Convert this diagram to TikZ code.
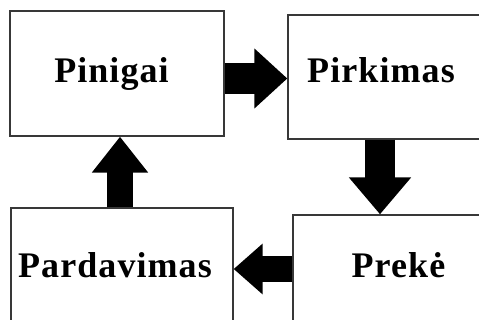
\documentclass[tikz,border=0pt]{standalone}
\usepackage{fontspec}
\setmainfont{Liberation Serif}
\newfontfamily\labelfont[LetterSpace=3]{Liberation Serif}
\usetikzlibrary{arrows.meta}
\tikzset{
  box/.style={draw=black!78, line width=1.3pt, fill=white, inner sep=0pt},
  lbl/.style={font=\labelfont\bfseries\fontsize{36}{36}\selectfont, inner sep=0pt, anchor=base},
  flow/.style={draw=black, line width=#1, line cap=butt},
}
\begin{document}
\begin{tikzpicture}[x=1pt, y=-1pt]
  \useasboundingbox (0,0) rectangle (479,320);
  % boxes
  \node[box, minimum width=214pt, minimum height=125pt] (pin) at (117,73.5) {};
  \node[box, minimum width=212pt, minimum height=124pt] (pir) at (394,77) {};
  \node[box, minimum width=222pt, minimum height=130pt] (par) at (122,273) {};
  \node[box, minimum width=200pt, minimum height=130pt] (pre) at (393,280) {};
  % labels
  \node[lbl] (tpin) at (111.5,83) {Pinigai};
  \node[lbl] (tpir) at (381,83) {Pirkimas};
  \node[lbl] (tpar) at (115,277) {Pardavimas};
  \node[lbl] (tpre) at (398.5,277) {Prekė};
  % block arrows between the boxes
  \draw[flow=31pt, -{Triangle[length=33pt, width=58pt]}] (pin.east |- 0,78.5) -- (pir.west |- 0,78.5);
  \draw[flow=30pt, -{Triangle[length=37pt, width=60pt]}] (pir.south -| 380,0) -- (pre.north -| 380,0);
  \draw[flow=26pt, -{Triangle[length=29pt, width=49pt]}] (pre.west |- 0,269) -- (par.east |- 0,269);
  \draw[flow=26pt, -{Triangle[length=36pt, width=54pt]}] (par.north -| 120,0) -- (pin.south -| 120,0);
\end{tikzpicture}
\end{document}
